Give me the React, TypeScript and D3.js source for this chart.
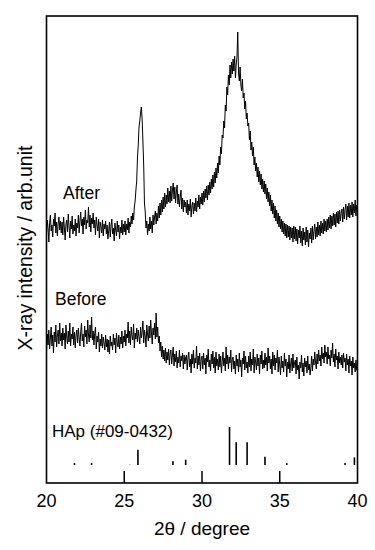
import React from "react";
import * as d3 from "d3";

// 2θ grid: 20.00 .. 40.00 step 0.05
const thetaStart = 20;
const thetaStep = 0.05;

// After (arb. units)
const afterValues = [
  249, 263, 255, 241, 260, 268, 252, 258, 246, 264, 257, 270, 250, 261, 247, 259, 266, 253, 262, 250,
  261, 248, 266, 255, 243, 259, 263, 251, 269, 256, 245, 262, 254, 267, 249, 258, 252, 264, 247, 260,
  255, 268, 250, 262, 271, 257, 264, 249, 266, 258, 273, 254, 263, 260, 276, 256, 268, 251, 265, 259,
  270, 255, 263, 248, 266, 258, 252, 264, 245, 261, 256, 250, 263, 247, 259, 254, 262, 249, 258, 244,
  252, 261, 246, 257, 264, 249, 255, 242, 260, 253, 247, 262, 251, 258, 244, 256, 250, 263, 248, 259,
  251, 262, 248, 259, 253, 265, 250, 261, 256, 267, 259, 270, 263, 276, 282, 293, 302, 325, 338, 356,
  362, 370, 376, 364, 342, 318, 280, 271, 255, 262, 248, 259, 252, 266, 254, 262, 250, 268, 258, 266,
  272, 259, 270, 262, 277, 265, 280, 268, 283, 271, 286, 274, 290, 276, 288, 279, 295, 281, 292, 280,
  297, 282, 293, 300, 284, 296, 280, 291, 298, 279, 289, 276, 286, 293, 274, 285, 271, 283, 276, 281,
  270, 283, 268, 279, 272, 284, 266, 277, 281, 269, 280, 272, 285, 271, 282, 276, 288, 274, 286, 279,
  290, 278, 292, 281, 294, 285, 297, 283, 298, 288, 301, 290, 304, 294, 308, 296, 311, 300, 315, 305,
  320, 310, 327, 318, 336, 329, 348, 345, 362, 355, 378, 372, 396, 388, 408, 398, 418, 405, 421, 409,
  424, 412, 427, 405, 418, 426, 451, 410, 402, 416, 398, 392, 404, 385, 390, 374, 382, 364, 370, 357,
  360, 343, 352, 333, 341, 327, 336, 318, 326, 312, 320, 306, 316, 301, 312, 298, 309, 294, 304, 291,
  302, 289, 299, 284, 295, 281, 291, 277, 288, 272, 283, 269, 280, 265, 277, 262, 273, 259, 270, 256,
  267, 254, 264, 251, 262, 249, 260, 247, 259, 245, 258, 246, 257, 243, 256, 245, 255, 241, 257, 244,
  256, 242, 254, 239, 253, 245, 257, 240, 252, 237, 255, 243, 251, 238, 256, 241, 253, 236, 250, 244,
  255, 240, 257, 243, 252, 259, 244, 256, 246, 261, 248, 258, 247, 262, 250, 260, 249, 264, 252, 262,
  251, 264, 253, 266, 255, 268, 254, 267, 257, 270, 258, 269, 256, 271, 260, 272, 259, 273, 262, 270,
  274, 261, 276, 264, 273, 279, 263, 277, 266, 280, 265, 278, 268, 281, 266, 279, 270, 283, 267, 278,
  272,
];

// Before (arb. units)
const beforeValues = [
  131, 149, 138, 153, 134, 145, 156, 137, 148, 130, 151, 141, 158, 136, 147, 153, 139, 160, 142, 150,
  137, 155, 143, 150, 134, 158, 146, 139, 152, 141, 160, 137, 149, 144, 156, 138, 151, 135, 148, 153,
  140, 155, 145, 137, 151, 160, 142, 149, 136, 157, 146, 153, 139, 163, 148, 141, 158, 145, 166, 143,
  152, 138, 149, 156, 134, 147, 141, 151, 131, 144, 137, 149, 135, 146, 140, 133, 148, 136, 144, 131,
  143, 129, 147, 137, 141, 133, 149, 138, 145, 130, 150, 140, 136, 148, 134, 146, 139, 152, 135, 147,
  141, 153, 137, 149, 145, 161, 140, 152, 138, 156, 147, 143, 159, 135, 150, 144, 155, 141, 153, 146,
  139, 156, 145, 151, 162, 140, 153, 147, 136, 158, 149, 142, 157, 145, 163, 150, 139, 155, 148, 160,
  144, 170, 146, 156, 140, 147, 132, 141, 126, 137, 124, 133, 122, 135, 120, 131, 123, 134, 118, 129,
  133, 119, 128, 136, 117, 129, 121, 132, 115, 126, 120, 133, 116, 127, 122, 130, 114, 128, 119, 125,
  128, 113, 126, 131, 116, 124, 110, 129, 119, 133, 115, 125, 120, 137, 114, 127, 118, 130, 112, 124,
  127, 114, 130, 118, 125, 109, 128, 121, 134, 116, 123, 112, 129, 119, 132, 115, 126, 110, 131, 117,
  124, 113, 129, 116, 127, 110, 122, 131, 117, 125, 112, 136, 119, 128, 114, 126, 120, 133, 111, 124,
  126, 114, 122, 109, 128, 117, 124, 111, 130, 116, 123, 106, 125, 119, 132, 113, 127, 115, 121, 110,
  127, 116, 131, 112, 124, 118, 134, 110, 126, 121, 113, 129, 117, 125, 109, 128, 119, 132, 114, 123,
  115, 130, 118, 126, 112, 135, 120, 127, 114, 124, 109, 131, 117, 128, 113, 125, 120, 133, 111, 126,
  118, 108, 127, 115, 122, 111, 130, 117, 124, 106, 121, 114, 128, 110, 119, 125, 112, 129, 115, 120,
  123, 109, 126, 113, 118, 104, 121, 115, 128, 111, 120, 107, 125, 116, 122, 110, 127, 113, 119, 108,
  115, 127, 112, 124, 118, 131, 121, 114, 129, 119, 133, 122, 128, 117, 136, 124, 130, 120, 138, 126,
  131, 119, 136, 124, 128, 117, 133, 125, 140, 121, 129, 116, 134, 123, 127, 114, 131, 120, 126, 118,
  128, 115, 130, 121, 125, 112, 129, 118, 124, 110, 127, 117, 122, 108, 126, 115, 120, 111, 123, 113,
  112,
];

// HAp reference (JCPDS #09-0432): positions and relative intensities
const hapPositions = [21.8, 22.9, 25.35, 25.88, 28.13, 28.95, 31.77, 32.2, 32.9, 34.05, 35.45, 39.2, 39.8];
const hapIntensities = [5, 5, 2, 40, 10, 14, 100, 60, 60, 22, 5, 5, 20];

const xTicks = [20, 25, 30, 35, 40];

const W = 375;
const H = 550;
const left = 46.5;
const right = 357.5;
const top = 16;
const bottom = 483;
const font = "'Liberation Sans', Arial, Helvetica, sans-serif";

export default function App() {
  const x = d3.scaleLinear().domain([20, 40]).range([left, right]);
  const y = d3.scaleLinear().domain([0, 467]).range([bottom, top]);
  const stickY = d3.scaleLinear().domain([0, 100]).range([465, 427]);

  const line = d3
    .line<number>()
    .x((_, i) => x(thetaStart + i * thetaStep))
    .y((v) => y(v));

  return (
    <svg
      width={W}
      height={H}
      style={{ position: "absolute", left: 0, top: 0, background: "#fff" }}
    >
      <rect x={0} y={0} width={W} height={H} fill="#fff" />
      <path d={line(afterValues) || ""} fill="none" stroke="#000" strokeWidth={1} />
      <path d={line(beforeValues) || ""} fill="none" stroke="#000" strokeWidth={1} />
      {hapPositions.map((p, i) => (
        <line
          key={i}
          x1={x(p)}
          x2={x(p)}
          y1={stickY(0)}
          y2={stickY(hapIntensities[i])}
          stroke="#000"
          strokeWidth={1.6}
          opacity={hapIntensities[i] < 3 ? 0.35 : 1}
        />
      ))}
      {xTicks.slice(1, -1).map((t) => (
        <line key={t} x1={x(t)} x2={x(t)} y1={bottom} y2={bottom - 12} stroke="#000" strokeWidth={1.5} />
      ))}
      <rect
        x={left}
        y={top}
        width={right - left}
        height={bottom - top}
        fill="none"
        stroke="#000"
        strokeWidth={1.6}
      />
      {xTicks.map((t) => (
        <text key={t} x={x(t)} y={507} textAnchor="middle" fontFamily={font} fontSize={18} fill="#000">
          {t}
        </text>
      ))}
      <text x={202} y={535} textAnchor="middle" fontFamily={font} fontSize={19} fill="#000">
        2θ / degree
      </text>
      <text
        transform={`translate(31.5, 248) rotate(-90)`}
        textAnchor="middle"
        fontFamily={font}
        fontSize={19.5}
        fill="#000"
      >
        X-ray intensity / arb.unit
      </text>
      <text x={63} y={199} fontFamily={font} fontSize={17.5} fill="#000">
        After
      </text>
      <text x={55} y={305} fontFamily={font} fontSize={17.5} fill="#000">
        Before
      </text>
      <text x={52} y={437} fontFamily={font} fontSize={17} fill="#000">
        HAp (#09-0432)
      </text>
    </svg>
  );
}
